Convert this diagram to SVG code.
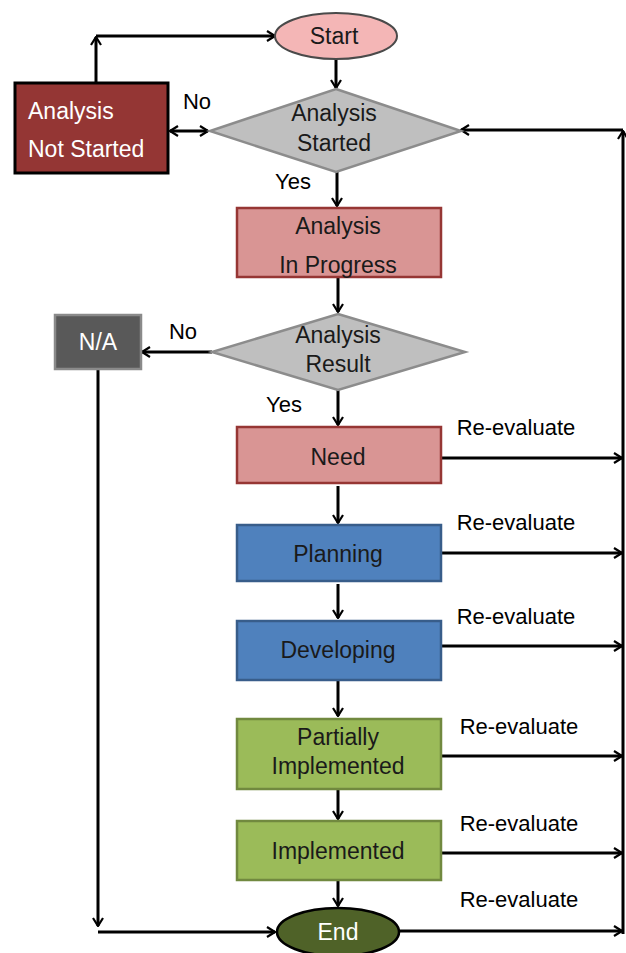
<svg xmlns="http://www.w3.org/2000/svg" width="626" height="953" viewBox="0 0 626 953">
<defs>
<marker id="ah" viewBox="0 0 12 12" refX="11" refY="6" markerWidth="12" markerHeight="12" markerUnits="userSpaceOnUse" orient="auto-start-reverse">
<path d="M3,1 L11,6 L3,11" fill="none" stroke="#000" stroke-width="2.2"/>
</marker>
</defs>
<style>
text{font-family:"Liberation Sans",Arial,sans-serif;font-size:22px;text-anchor:middle}
.n{font-size:23px}
.lbl{fill:#000}
.w{fill:#fff}
.k{fill:#1a1a1a}
.c{fill:none;stroke:#000;stroke-width:3}
.a{marker-end:url(#ah)}
.pink{fill:#d99594;stroke:#963634;stroke-width:2.5}
.blue{fill:#4f81bd;stroke:#385d8a;stroke-width:2.5}
.green{fill:#9bbb59;stroke:#71893f;stroke-width:2.5}
.dia{fill:#bfbfbf;stroke:#8c8c8c;stroke-width:2.5}
</style>
<g id="connectors">
<line class="c a" x1="336" y1="60" x2="336" y2="88"/>
<line class="c a" x1="96" y1="82" x2="96" y2="37"/>
<line class="c a" x1="96" y1="36" x2="275" y2="36"/>
<line class="c" x1="170" y1="131" x2="208" y2="131" marker-start="url(#ah)" marker-end="url(#ah)"/>
<line class="c a" x1="337" y1="172" x2="337" y2="206"/>
<line class="c a" x1="338" y1="278" x2="338" y2="312"/>
<line class="c a" x1="212" y1="352" x2="142" y2="352"/>
<line class="c a" x1="98" y1="369" x2="98" y2="926"/>
<line class="c a" x1="98" y1="932" x2="275" y2="932"/>
<line class="c a" x1="338" y1="390" x2="338" y2="425"/>
<line class="c a" x1="338" y1="486" x2="338" y2="523"/>
<line class="c a" x1="338" y1="584" x2="338" y2="618"/>
<line class="c a" x1="338" y1="681" x2="338" y2="716"/>
<line class="c a" x1="338" y1="790" x2="338" y2="819"/>
<line class="c a" x1="338" y1="881" x2="338" y2="906"/>
<line class="c a" x1="623" y1="934" x2="623" y2="131"/>
<line class="c a" x1="623" y1="130" x2="461" y2="130"/>
<line class="c a" x1="442" y1="458" x2="622" y2="458"/>
<line class="c a" x1="442" y1="553" x2="622" y2="553"/>
<line class="c a" x1="442" y1="646" x2="622" y2="646"/>
<line class="c a" x1="442" y1="756" x2="622" y2="756"/>
<line class="c a" x1="442" y1="853" x2="622" y2="853"/>
<line class="c a" x1="399" y1="931" x2="622" y2="931"/>
<text class="lbl" x="197" y="109">No</text>
<text class="lbl" x="293" y="189">Yes</text>
<text class="lbl" x="183" y="339">No</text>
<text class="lbl" x="284" y="412">Yes</text>
<text class="lbl" x="516" y="435">Re-evaluate</text>
<text class="lbl" x="516" y="530">Re-evaluate</text>
<text class="lbl" x="516" y="624">Re-evaluate</text>
<text class="lbl" x="519" y="734">Re-evaluate</text>
<text class="lbl" x="519" y="831">Re-evaluate</text>
<text class="lbl" x="519" y="907">Re-evaluate</text>
</g>
<g id="start">
<ellipse cx="336" cy="36" rx="61" ry="23" fill="#f4b6b6" stroke="#4a4a4a" stroke-width="2"/>
<text class="k n" x="334" y="44">Start</text>
</g>
<g id="analysis-started">
<polygon class="dia" points="336,89 461,131 336,172 210,131"/>
<text class="k n" x="334" y="121">Analysis</text>
<text class="k n" x="334" y="151">Started</text>
</g>
<g id="not-started">
<rect x="15" y="83" width="153" height="90" fill="#943634" stroke="#000" stroke-width="3"/>
<text class="w n" x="28" y="119" style="text-anchor:start">Analysis</text>
<text class="w n" x="28" y="157" style="text-anchor:start">Not Started</text>
</g>
<g id="in-progress">
<rect class="pink" x="237" y="208" width="204" height="69"/>
<text class="k n" x="338" y="234">Analysis</text>
<text class="k n" x="338" y="273">In Progress</text>
</g>
<g id="analysis-result">
<polygon class="dia" points="338,314 465,352 338,390 212,352"/>
<text class="k n" x="338" y="343">Analysis</text>
<text class="k n" x="338" y="372">Result</text>
</g>
<g id="na">
<rect x="55" y="315" width="86" height="54" fill="#595959" stroke="#8a8a8a" stroke-width="2.5"/>
<text class="w n" x="98" y="350">N/A</text>
</g>
<g id="need">
<rect class="pink" x="237" y="427" width="204" height="56"/>
<text class="k n" x="338" y="465">Need</text>
</g>
<g id="planning">
<rect class="blue" x="237" y="525" width="204" height="56"/>
<text class="k n" x="338" y="562">Planning</text>
</g>
<g id="developing">
<rect class="blue" x="237" y="621" width="204" height="59"/>
<text class="k n" x="338" y="658">Developing</text>
</g>
<g id="partially-implemented">
<rect class="green" x="237" y="719" width="204" height="70"/>
<text class="k n" x="338" y="745">Partially</text>
<text class="k n" x="338" y="774">Implemented</text>
</g>
<g id="implemented">
<rect class="green" x="237" y="821" width="204" height="59"/>
<text class="k n" x="338" y="859">Implemented</text>
</g>
<g id="end">
<ellipse cx="338" cy="932" rx="61" ry="24" fill="#4f6228" stroke="#000" stroke-width="2.5"/>
<text class="w n" x="338" y="940">End</text>
</g>
</svg>
